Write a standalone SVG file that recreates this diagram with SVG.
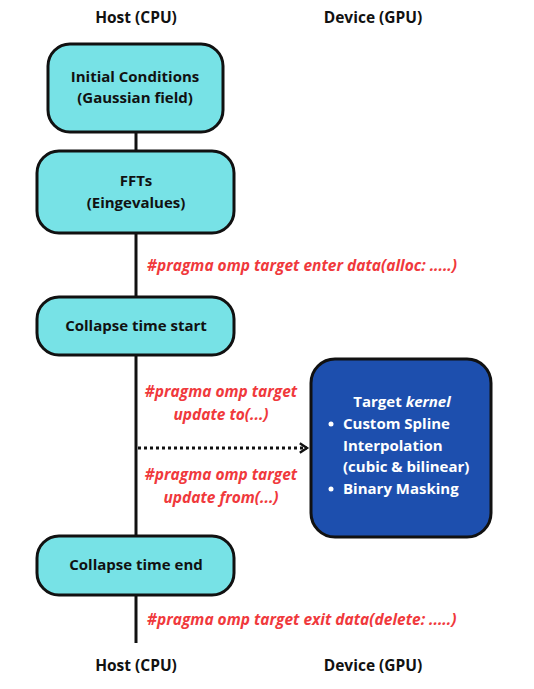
<svg xmlns="http://www.w3.org/2000/svg" width="534" height="689" viewBox="0 0 534 689">
<style>
.lbl{font-family:"Open Sans","Noto Sans",sans-serif;font-weight:bold;font-size:15.5px;fill:#111;text-anchor:middle}
.box{fill:#77e2e6;stroke:#111;stroke-width:3}
.txt{font-family:"Open Sans","Noto Sans",sans-serif;font-weight:bold;font-size:15px;fill:#111;text-anchor:middle}
.red{font-family:"Open Sans","Noto Sans",sans-serif;font-weight:bold;font-style:italic;font-size:15.5px;fill:#f0393c}
.wt{font-family:"Open Sans","Noto Sans",sans-serif;font-weight:bold;font-size:15px;fill:#fff}
.ln{stroke:#111;stroke-width:3;fill:none}
</style>
<defs>
<marker id="arr" viewBox="0 0 10 10" refX="7" refY="5" markerWidth="4" markerHeight="4" orient="auto" markerUnits="strokeWidth">
<path d="M1,1 L7,5 L1,9" fill="none" stroke="#111" stroke-width="2"/>
</marker>
</defs>
<rect width="534" height="689" fill="#fff"/>
<text class="lbl" x="136" y="23">Host (CPU)</text>
<text class="lbl" x="373" y="23">Device (GPU)</text>
<text class="lbl" x="136" y="671">Host (CPU)</text>
<text class="lbl" x="373" y="671">Device (GPU)</text>
<g id="connectors">
<line class="ln" x1="136" y1="133" x2="136" y2="150"/>
<line class="ln" x1="136" y1="234" x2="136" y2="296"/>
<line class="ln" x1="136" y1="356" x2="136" y2="535"/>
<line class="ln" x1="136" y1="596" x2="136" y2="643"/>
<line x1="138" y1="448" x2="307" y2="448" stroke="#111" stroke-width="3" stroke-dasharray="3 3" marker-end="url(#arr)"/>
<text class="red" x="147" y="271">#pragma omp target enter data(alloc: .....)</text>
<text class="red" x="221" y="397" text-anchor="middle">#pragma omp target</text>
<text class="red" x="221" y="420" text-anchor="middle">update to(...)</text>
<text class="red" x="221" y="480" text-anchor="middle">#pragma omp target</text>
<text class="red" x="221" y="503" text-anchor="middle">update from(...)</text>
<text class="red" x="147" y="625">#pragma omp target exit data(delete: .....)</text>
</g>
<g id="n1">
<rect class="box" x="48" y="44" width="175" height="88" rx="22"/>
<text class="txt" x="135" y="81.5">Initial Conditions</text>
<text class="txt" x="135" y="103">(Gaussian field)</text>
</g>
<g id="n2">
<rect class="box" x="37" y="151" width="197" height="82" rx="22"/>
<text class="txt" x="136" y="185.5">FFTs</text>
<text class="txt" x="136" y="207.5">(Eingevalues)</text>
</g>
<g id="n3">
<rect class="box" x="37" y="297" width="197" height="58" rx="22"/>
<text class="txt" x="136" y="330.5">Collapse time start</text>
</g>
<g id="n4">
<rect class="box" x="37" y="536" width="197" height="59" rx="22"/>
<text class="txt" x="136" y="570">Collapse time end</text>
</g>
<g id="kernel">
<rect x="311" y="359" width="180" height="178" rx="24" fill="#1d4fae" stroke="#111" stroke-width="3"/>
<text class="wt" x="402" y="407" text-anchor="middle">Target <tspan font-style="italic">kernel</tspan></text>
<circle cx="331" cy="424" r="2.5" fill="#fff"/>
<text class="wt" x="343" y="429">Custom Spline</text>
<text class="wt" x="343" y="451">Interpolation</text>
<text class="wt" x="343" y="472">(cubic &amp; bilinear)</text>
<circle cx="331" cy="489" r="2.5" fill="#fff"/>
<text class="wt" x="343" y="494">Binary Masking</text>
</g>
</svg>
